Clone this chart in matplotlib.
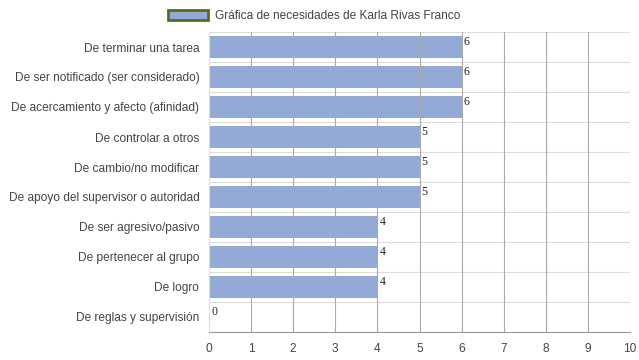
import matplotlib.pyplot as plt
from matplotlib.patches import Patch
import numpy as np

categories = [
    "De terminar una tarea",
    "De ser notificado (ser considerado)",
    "De acercamiento y afecto (afinidad)",
    "De controlar a otros",
    "De cambio/no modificar",
    "De apoyo del supervisor o autoridad",
    "De ser agresivo/pasivo",
    "De pertenecer al grupo",
    "De logro",
    "De reglas y supervisión",
]
values = [6, 6, 6, 5, 5, 5, 4, 4, 4, 0]
x_ticks = list(range(0, 11))
legend_label = "Gráfica de necesidades de Karla Rivas Franco"

bar_color = "#94aad6"
text_color = "#444444"

plt.rcParams['font.family'] = ['Liberation Sans', 'DejaVu Sans']

fig = plt.figure(figsize=(6.39, 3.6), dpi=100)
ax = fig.add_axes([209 / 639, 1 - 332 / 360, 421 / 639, 300 / 360])

y = np.arange(len(categories))
ax.barh(y, values, height=0.72, color=bar_color, zorder=2)

ax.set_xlim(0, 10)
ax.set_ylim(len(categories) - 0.5, -0.5)
ax.set_xticks(x_ticks)
ax.set_xticklabels([str(t) for t in x_ticks], color=text_color, fontsize=8.6)
ax.set_yticks(y)
ax.set_yticklabels(categories, color=text_color, fontsize=8.6)

# horizontal separators between rows
for b in np.arange(-0.5, len(categories), 1.0):
    ax.axhline(b, color="#dddddd", lw=0.8, zorder=1)
# vertical grid
for t in x_ticks[1:]:
    ax.axvline(t, color="#aaaaaa", lw=0.8, zorder=3)

for s in ["top", "right"]:
    ax.spines[s].set_visible(False)
ax.spines["left"].set_color("#dddddd")
ax.spines["bottom"].set_color("#999999")
ax.tick_params(axis="y", length=0, pad=7)
ax.tick_params(axis="x", length=0, pad=8)

for yi, v in zip(y, values):
    ax.text(v + 0.05, yi - 0.18, str(v), fontsize=8.5, family="Liberation Serif",
            color="#222222", va="center", ha="left", zorder=4)

handle = Patch(facecolor=bar_color, edgecolor="#5b6b1c", lw=2)
fig.legend([handle], [legend_label], loc="upper center", bbox_to_anchor=(0.492, 1.003),
           frameon=False, fontsize=8.6, labelcolor=text_color, handlelength=3.3,
           handleheight=0.9, handletextpad=0.6)

fig.savefig("out.png", dpi=100)
